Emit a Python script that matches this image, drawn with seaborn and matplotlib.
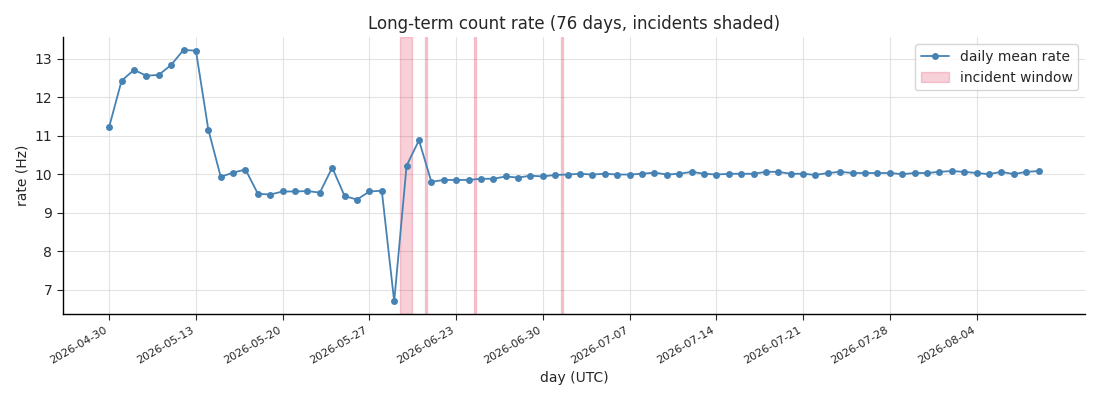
import seaborn as sns
import matplotlib.pyplot as plt
import pandas as pd

# day labels (gaps in the record, so the axis runs on day index)
days = (
    ["2026-04-30", "2026-05-07", "2026-05-08", "2026-05-09", "2026-05-10", "2026-05-11", "2026-05-12"]
    + [f"2026-05-{d:02d}" for d in range(13, 27)]
    + ["2026-05-27", "2026-05-28", "2026-05-29", "2026-05-30", "2026-05-31", "2026-06-21", "2026-06-22"]
    + [f"2026-06-{d:02d}" for d in range(23, 31)]
    + [f"2026-07-{d:02d}" for d in range(1, 32)]
    + [f"2026-08-{d:02d}" for d in range(1, 10)]
)

rate = [
    11.23, 12.43, 12.71, 12.56, 12.58, 12.84, 13.23, 13.21, 11.16, 9.93,
    10.04, 10.12, 9.49, 9.47, 9.55, 9.55, 9.56, 9.52, 10.17, 9.43,
    9.34, 9.55, 9.57, 6.69, 10.22, 10.88, 9.80, 9.85, 9.85, 9.85,
    9.88, 9.88, 9.94, 9.91, 9.96, 9.94, 9.98, 9.99, 10.01, 9.99,
    10.01, 9.99, 9.99, 10.01, 10.04, 9.99, 10.01, 10.06, 10.01, 9.99,
    10.01, 10.01, 10.01, 10.06, 10.06, 10.01, 10.01, 9.98, 10.03, 10.06,
    10.03, 10.03, 10.03, 10.03, 10.00, 10.03, 10.03, 10.06, 10.08, 10.06,
    10.03, 10.00, 10.06, 10.00, 10.06, 10.08,
]

# incident windows in day-index units
incident_start = [23.5, 25.5, 29.45, 36.47]
incident_end = [24.45, 25.62, 29.57, 36.59]

df = pd.DataFrame({"idx": range(len(rate)), "day": days, "rate": rate})

sns.set_style("white")
fig, ax = plt.subplots(figsize=(11, 4), dpi=100)

for i, (s, e) in enumerate(zip(incident_start, incident_end)):
    ax.axvspan(s, e, color="crimson", alpha=0.2,
               label="incident window" if i == 0 else None)

sns.lineplot(data=df, x="idx", y="rate", ax=ax, color="steelblue",
             marker="o", markersize=5, markeredgewidth=0, linewidth=1.3,
             label="daily mean rate")

tick_pos = list(range(0, len(rate), 7))
ax.set_xticks(tick_pos)
ax.set_xticklabels([days[i] for i in tick_pos], rotation=30, ha="right", fontsize=8)
ax.tick_params(axis="both", length=4, width=0.8, direction="out", bottom=True, left=True)
ax.tick_params(axis="y", labelsize=10)
ax.grid(True, color="#dddddd", linewidth=0.8, alpha=0.8)
for sp in ["left", "bottom"]:
    ax.spines[sp].set_color("black")
    ax.spines[sp].set_linewidth(1)
sns.despine(ax=ax)

ax.set_title("Long-term count rate (76 days, incidents shaded)", fontsize=12)
ax.set_xlabel("day (UTC)", fontsize=10)
ax.set_ylabel("rate (Hz)", fontsize=10)

handles, labels = ax.get_legend_handles_labels()
order = [labels.index("daily mean rate"), labels.index("incident window")]
ax.legend([handles[k] for k in order], [labels[k] for k in order],
          loc="upper right", fontsize=10, frameon=True)

plt.tight_layout()
plt.savefig("out.png")
plt.close()
